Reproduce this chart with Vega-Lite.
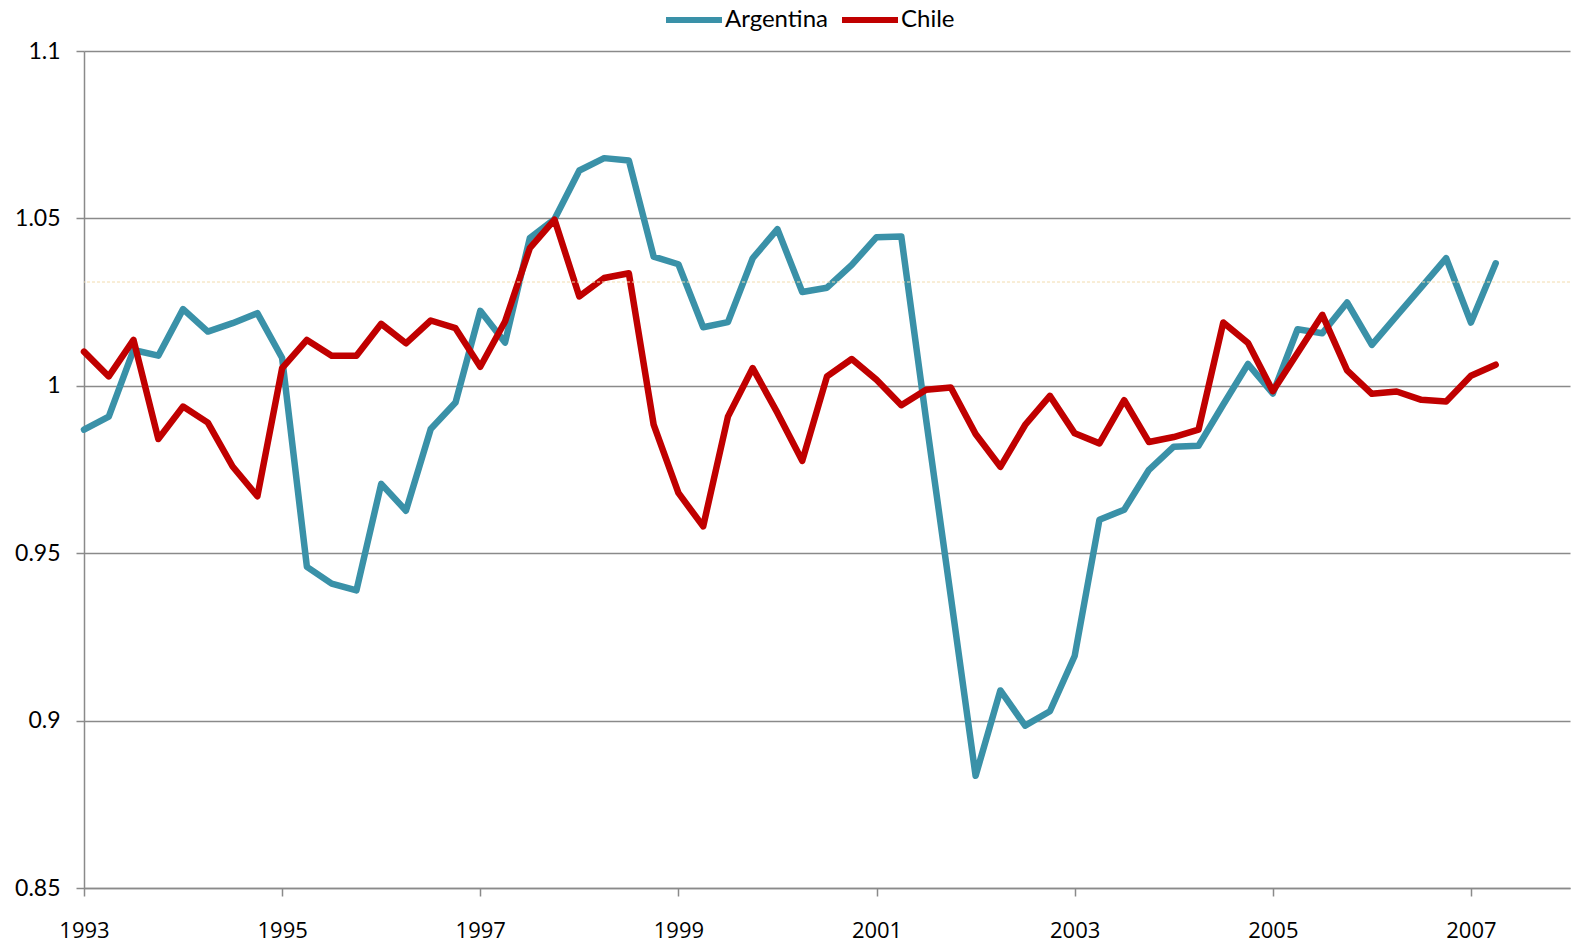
{
  "$schema": "https://vega.github.io/schema/vega-lite/v6.json",
  "width": 1486,
  "height": 837,
  "autosize": "none",
  "padding": {"left": 84, "top": 51, "right": 4, "bottom": 56},
  "background": "white",
  "config": {"view": {"stroke": null}, "font": "Lato"},
  "layer": [
    {
      "data": {"values": [
        {"t": 1993.00, "Argentina": 0.9869, "Chile": 1.0102},
        {"t": 1993.25, "Argentina": 0.9908, "Chile": 1.0028},
        {"t": 1993.50, "Argentina": 1.0107, "Chile": 1.0137},
        {"t": 1993.75, "Argentina": 1.0090, "Chile": 0.9841},
        {"t": 1994.00, "Argentina": 1.0229, "Chile": 0.9938},
        {"t": 1994.25, "Argentina": 1.0162, "Chile": 0.9890},
        {"t": 1994.50, "Argentina": 1.0187, "Chile": 0.9759},
        {"t": 1994.75, "Argentina": 1.0217, "Chile": 0.9670},
        {"t": 1995.00, "Argentina": 1.0083, "Chile": 1.0053},
        {"t": 1995.25, "Argentina": 0.9459, "Chile": 1.0137},
        {"t": 1995.50, "Argentina": 0.9409, "Chile": 1.0090},
        {"t": 1995.75, "Argentina": 0.9389, "Chile": 1.0090},
        {"t": 1996.00, "Argentina": 0.9707, "Chile": 1.0185},
        {"t": 1996.25, "Argentina": 0.9627, "Chile": 1.0127},
        {"t": 1996.50, "Argentina": 0.9871, "Chile": 1.0195},
        {"t": 1996.75, "Argentina": 0.9950, "Chile": 1.0172},
        {"t": 1997.00, "Argentina": 1.0224, "Chile": 1.0057},
        {"t": 1997.25, "Argentina": 1.0129, "Chile": 1.0192},
        {"t": 1997.50, "Argentina": 1.0441, "Chile": 1.0411},
        {"t": 1997.75, "Argentina": 1.0498, "Chile": 1.0496},
        {"t": 1998.00, "Argentina": 1.0643, "Chile": 1.0267},
        {"t": 1998.25, "Argentina": 1.0680, "Chile": 1.0322},
        {"t": 1998.50, "Argentina": 1.0673, "Chile": 1.0336},
        {"t": 1998.75, "Argentina": 1.0386, "Chile": 0.9884},
        {"t": 1999.00, "Argentina": 1.0363, "Chile": 0.9680},
        {"t": 1999.25, "Argentina": 1.0175, "Chile": 0.9580},
        {"t": 1999.50, "Argentina": 1.0190, "Chile": 0.9908},
        {"t": 1999.75, "Argentina": 1.0381, "Chile": 1.0053},
        {"t": 2000.00, "Argentina": 1.0468, "Chile": 0.9919},
        {"t": 2000.25, "Argentina": 1.0280, "Chile": 0.9776},
        {"t": 2000.50, "Argentina": 1.0293, "Chile": 1.0028},
        {"t": 2000.75, "Argentina": 1.0361, "Chile": 1.0080},
        {"t": 2001.00, "Argentina": 1.0444, "Chile": 1.0018},
        {"t": 2001.25, "Argentina": 1.0446, "Chile": 0.9942},
        {"t": 2001.50, "Argentina": 0.9900, "Chile": 0.9988},
        {"t": 2001.75, "Argentina": 0.9370, "Chile": 0.9995},
        {"t": 2002.00, "Argentina": 0.8835, "Chile": 0.9856},
        {"t": 2002.25, "Argentina": 0.9090, "Chile": 0.9758},
        {"t": 2002.50, "Argentina": 0.8985, "Chile": 0.9883},
        {"t": 2002.75, "Argentina": 0.9028, "Chile": 0.9970},
        {"t": 2003.00, "Argentina": 0.9193, "Chile": 0.9858},
        {"t": 2003.25, "Argentina": 0.9600, "Chile": 0.9828},
        {"t": 2003.50, "Argentina": 0.9630, "Chile": 0.9957},
        {"t": 2003.75, "Argentina": 0.9749, "Chile": 0.9832},
        {"t": 2004.00, "Argentina": 0.9818, "Chile": 0.9847},
        {"t": 2004.25, "Argentina": 0.9821, "Chile": 0.9869},
        {"t": 2004.50, "Argentina": 0.9944, "Chile": 1.0189},
        {"t": 2004.75, "Argentina": 1.0065, "Chile": 1.0128},
        {"t": 2005.00, "Argentina": 0.9977, "Chile": 0.9984},
        {"t": 2005.25, "Argentina": 1.0169, "Chile": 1.0098},
        {"t": 2005.50, "Argentina": 1.0157, "Chile": 1.0212},
        {"t": 2005.75, "Argentina": 1.0249, "Chile": 1.0046},
        {"t": 2006.00, "Argentina": 1.0122, "Chile": 0.9976},
        {"t": 2006.25, "Argentina": 1.0209, "Chile": 0.9983},
        {"t": 2006.50, "Argentina": 1.0295, "Chile": 0.9958},
        {"t": 2006.75, "Argentina": 1.0381, "Chile": 0.9953},
        {"t": 2007.00, "Argentina": 1.0189, "Chile": 1.0030},
        {"t": 2007.25, "Argentina": 1.0366, "Chile": 1.0063}
      ]},
      "transform": [{"fold": ["Argentina", "Chile"], "as": ["country", "value"]}],
      "mark": {"type": "line", "strokeWidth": 6.5, "strokeJoin": "round", "strokeCap": "round"},
      "encoding": {
        "x": {
          "field": "t", "type": "quantitative",
          "scale": {"domain": [1993, 2008], "nice": false, "zero": false},
          "axis": {
            "title": null, "values": [1993, 1995, 1997, 1999, 2001, 2003, 2005, 2007], "format": "d",
            "grid": false, "domainColor": "#8a8a8a", "domainWidth": 1.5,
            "tickColor": "#8a8a8a", "tickWidth": 1.5, "tickSize": 8,
            "labelFont": "Open Sans", "labelFontSize": 22, "labelColor": "#000000", "labelPadding": 24,
            "labelFlush": false, "labelOverlap": false
          }
        },
        "y": {
          "field": "value", "type": "quantitative",
          "scale": {"domain": [0.85, 1.1], "nice": false, "zero": false},
          "axis": {
            "title": null, "values": [0.85, 0.9, 0.95, 1, 1.05, 1.1], "format": "~g",
            "grid": true, "gridColor": "#8a8a8a", "gridWidth": 1.5,
            "domainColor": "#8a8a8a", "domainWidth": 1.5,
            "tickColor": "#8a8a8a", "tickWidth": 1.5, "tickSize": 8,
            "labelFont": "Lato", "labelFontSize": 23, "labelColor": "#000000", "labelPadding": 16,
            "labelFlush": false, "labelOverlap": false
          }
        },
        "color": {
          "field": "country", "type": "nominal",
          "scale": {"domain": ["Argentina", "Chile"], "range": ["#3a91a8", "#c00000"]},
          "legend": {
            "title": null, "orient": "none", "legendX": 579, "legendY": -62, "direction": "horizontal",
            "symbolType": "stroke", "symbolSize": 3136, "symbolStrokeWidth": 6,
            "labelFont": "Lato", "labelFontSize": 24, "labelColor": "#000000",
            "labelOffset": 0, "columnPadding": 2, "padding": 0
          }
        }
      }
    },
    {
      "data": {"values": [{"ref": 1.031}]},
      "mark": {"type": "rule", "color": "#f2dcae", "strokeDash": [3, 2], "strokeWidth": 1},
      "encoding": {
        "y": {"field": "ref", "type": "quantitative"}
      }
    }
  ]
}
